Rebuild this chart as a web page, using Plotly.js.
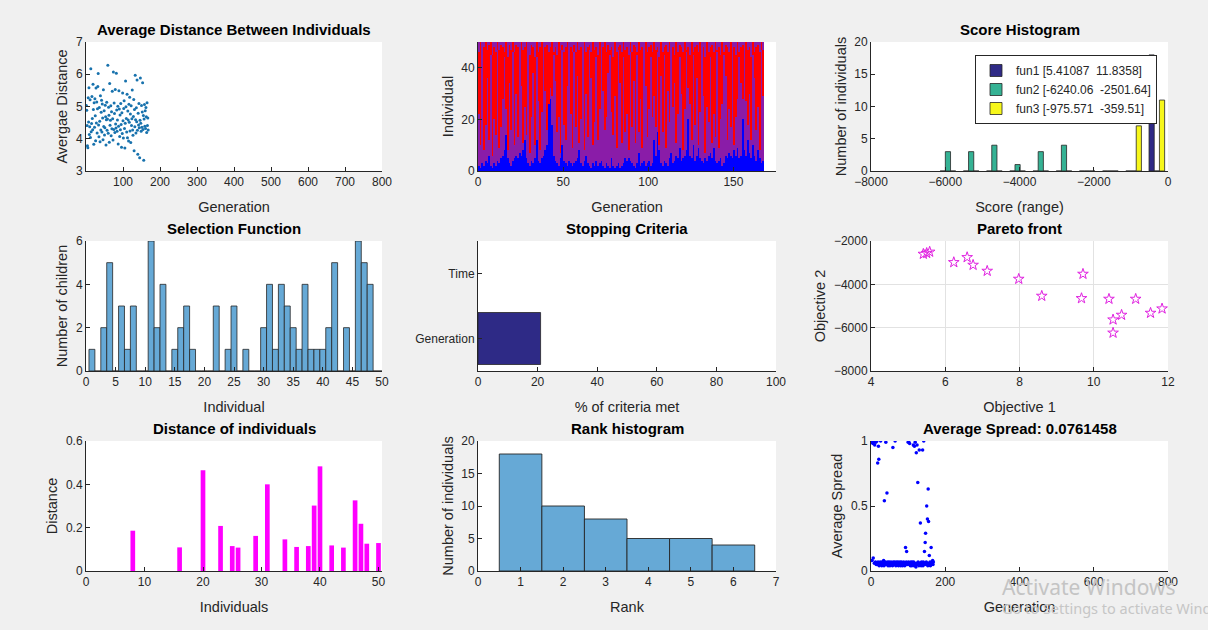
<!DOCTYPE html>
<html><head><meta charset="utf-8">
<script src="https://cdn.plot.ly/plotly-3.0.1.min.js"></script>
<style>html,body{margin:0;padding:0;background:#f0f0f0;}#chart{width:1208px;height:630px;}</style>
</head><body><div id="chart"></div>
<script>
// ---------- DATA ----------
// 1. Average distance between individuals (one value per generation, 168 generations)
const avgDistance = [
5.03,4.88,4.41,3.78,3.72,5.27,4.52,5.58,4.13,4.37,5.21,4.04,6.17,4.22,
4.47,5.31,4.63,4.28,5.69,4.91,3.83,5.12,4.36,5.24,4.71,3.94,5.57,4.49,
5.14,4.18,4.93,5.62,6.02,4.43,4.06,4.97,4.54,3.91,5.33,4.27,4.82,5.19,
4.21,5.08,4.64,3.97,5.52,4.38,4.87,4.12,4.34,5.04,4.68,3.81,4.59,5.13,
4.26,4.61,6.28,4.17,4.98,4.73,3.89,5.71,4.42,4.57,5.02,4.09,4.84,4.31,
5.47,4.62,3.96,6.07,4.29,5.11,4.78,4.19,5.53,4.46,4.33,6.03,4.89,4.23,
4.58,5.01,3.84,4.39,5.49,4.92,4.07,4.74,4.28,5.09,4.44,3.74,4.81,4.16,
5.42,4.56,4.02,4.94,5.18,4.32,3.71,4.48,5.79,4.99,4.63,4.21,5.38,4.03,
4.86,4.58,3.93,5.07,4.51,5.29,4.24,4.77,3.88,5.02,4.41,4.62,5.51,4.27,
4.11,4.69,5.22,3.63,4.91,4.37,5.97,4.59,4.18,4.96,4.53,5.82,4.26,3.52,
4.79,4.43,5.09,4.34,3.41,4.57,5.88,4.48,4.23,5.03,4.36,4.83,5.74,4.29,
4.72,3.33,4.61,5.06,4.39,4.87,4.32,4.97,4.68,4.19,5.12,4.41,4.64,4.27];

// 2. Genealogy: per generation, height of solid blue (mutation) band, top of purple streak, start of top mixed band
const blueTop = [
2,1,3,2,4,3,6,2,1,3,2,4,3,5,
6,8,14,5,3,2,4,5,6,5,7,6,8,12,
5,3,2,4,3,5,12,4,3,5,6,8,10,26,
28,18,6,4,3,2,5,10,4,3,2,4,3,2,
3,4,5,8,3,2,4,6,3,2,1,3,2,4,
2,3,4,2,1,3,2,1,5,2,1,2,3,1,
2,3,5,4,5,4,3,2,1,3,7,2,3,4,
2,3,4,2,3,12,6,15,8,3,2,4,3,2,
5,7,3,4,6,5,9,4,5,6,8,20,6,5,
10,4,6,9,5,4,3,5,4,6,7,5,9,4,
3,4,5,2,3,6,5,7,6,5,8,6,9,5,
6,20,8,6,12,7,5,10,6,4,8,5,3,4];
const streakTop = [
22,10,46,8,18,36,12,45,6,20,14,47,9,17,
28,44,24,8,34,16,46,10,30,13,45,33,11,25,
14,47,7,21,38,10,44,27,8,23,46,31,16,26,
32,29,45,35,15,21,7,47,18,12,33,44,22,9,
46,17,37,11,20,45,8,30,13,47,36,10,19,44,
12,24,46,31,16,21,38,45,23,14,29,9,47,34,
11,44,15,22,8,46,17,35,11,45,15,28,9,47,
33,13,24,44,21,29,17,46,10,37,15,45,9,31,
19,47,25,34,11,22,44,30,8,24,46,32,26,12,
45,18,36,10,23,47,29,7,25,19,44,11,22,13,
46,9,20,26,45,37,12,24,17,47,10,21,28,44,
34,28,46,27,18,30,12,45,36,16,25,8,47,29];
const topStart = [
46,50,45,48,50,47,49,50,45,48,46,50,47,49,
48,46,50,44,49,47,50,46,49,48,45,50,47,48,
50,47,45,49,48,44,50,46,48,50,45,48,49,46,
48,50,46,48,45,50,47,49,46,48,50,44,48,46,
49,46,50,47,48,45,50,46,48,49,46,50,47,48,
45,50,46,48,50,46,49,47,48,44,50,46,48,49,
46,50,47,48,45,50,46,49,48,46,50,47,48,45,
50,46,48,49,46,50,47,48,44,50,46,48,49,46,
50,47,48,45,50,46,49,48,46,50,47,48,45,50,
46,48,49,46,50,47,48,44,50,46,48,49,46,50,
47,48,45,50,46,49,48,46,50,47,48,45,50,46,
48,49,46,50,47,48,44,50,46,48,49,46,50,47];
const nIndividuals = 50;

// 3. Score histogram
const binCenters = [-5927.5,-5302.3,-4677.1,-4051.9,-3426.8,-2801.6,-2176.4,-1551.2,-926.0,-300.8];
const fun1Counts = [0,0,0,0,0,0,0,0,0,18];
const fun2Counts = [3,3,4,1,3,4,0,0,0,0];
const fun3Counts = [0,0,0,0,0,0,0,0,7,11];
const scoreLegend = ['fun1 [5.41087\u00a0 11.8358]','fun2 [-6240.06\u00a0 -2501.64]','fun3 [-975.571\u00a0 -359.51]'];

// 4. Selection function (children per individual 1..50)
const childrenCounts = [1,0,2,5,0,3,1,3,0,0, 6,2,4,0,1,2,3,1,0,0, 0,3,0,1,3,0,1,0,0,2,
                        4,1,4,3,2,1,4,1,1,1, 2,5,0,2,0,6,5,4,0,0];

// 5. Stopping criteria
const criteria = ['Generation','Time'];
const criteriaMet = [21,0];

// 6. Pareto front
const objective1 = [5.41,5.50,5.58,6.23,6.59,6.75,7.13,7.98,8.60,9.71,9.67,10.41,10.52,10.75,10.52,11.13,11.53,11.84];
const objective2 = [-2600,-2560,-2502,-2985,-2754,-3108,-3385,-3754,-4538,-3523,-4646,-4677,-5631,-5415,-6240,-4677,-5323,-5123];

// 7. Distance of individuals
const distIndividuals = [8,16,20,23,25,26,29,31,34,36,38,39,40,42,44,46,47,48,50];
const distValues = [0.186,0.109,0.465,0.208,0.115,0.108,0.162,0.400,0.146,0.111,0.115,0.302,0.483,0.118,0.108,0.326,0.218,0.126,0.129];

// 8. Rank histogram
const ranks = [1,2,3,4,5,6];
const rankCounts = [18,10,8,5,5,4];

// 9. Average spread per generation
const avgSpread = [
1.0,0.99,0.08,1.0,0.98,0.1,0.99,1.0,0.06,0.97,1.0,0.07,0.99,0.05,
0.06,1.0,0.05,0.83,0.07,0.96,0.86,0.04,0.06,0.05,0.07,1.0,0.05,0.06,
0.04,0.07,0.05,0.06,0.05,0.08,0.04,0.54,0.06,0.05,0.07,0.99,0.05,0.06,
0.6,0.05,0.07,0.04,0.06,0.05,0.07,0.06,0.04,0.06,0.05,0.07,0.06,0.05,
0.06,0.04,0.95,0.07,0.05,0.06,0.05,0.07,1.0,0.06,0.04,0.06,0.07,0.05,
0.06,0.05,0.07,0.04,0.06,0.05,0.06,0.07,0.05,0.04,0.06,0.07,0.05,0.06,
0.04,0.06,0.05,0.07,0.06,0.05,0.04,0.06,0.18,0.05,0.07,0.15,0.06,0.05,
0.06,0.99,0.07,1.0,0.05,0.98,0.06,0.04,0.07,0.05,0.06,0.04,0.07,0.06,
0.05,0.97,0.07,0.04,0.96,0.06,0.99,0.05,0.03,0.91,0.06,0.97,0.05,0.68,
0.07,0.05,0.04,0.93,0.06,0.05,0.37,0.06,0.04,0.07,0.05,0.06,0.93,0.04,
0.07,1.0,0.05,0.15,0.06,0.22,0.29,0.05,0.07,0.5,0.06,0.4,0.04,0.63,
0.38,0.06,0.12,0.05,0.07,0.04,0.06,0.18,0.05,0.07,0.06,0.08,0.05,0.07];

// ---------- BUILD ----------
const W = 1208, H = 630;
const FONT = 'Liberation Sans, Arial, sans-serif';
const INK = '#262626';
const cols = [[86,382],[478,776],[871,1168]];
const rows = [[42,171],[241,371],[441,571]];
const gens = avgDistance.map((_, i) => i + 1);
const genCenters = blueTop.map((_, i) => i + 0.5);
const indCenters = [];
for (let i = 1; i <= nIndividuals; i++) indCenters.push(i - 0.5);
const zGen = [];
for (let i = 1; i <= nIndividuals; i++) {
  const row = [];
  for (let g = 0; g < blueTop.length; g++) {
    let v = 1;
    if (i <= blueTop[g]) v = 0;
    else if (i <= streakTop[g]) v = 0.5;
    else if (i > topStart[g]) v = 0.5;
    row.push(v);
  }
  zGen.push(row);
}
const ax = k => (k > 1 ? k : '');
const traces = [];
traces.push({type:'scatter', mode:'markers', x:gens, y:avgDistance, xaxis:'x', yaxis:'y',
  marker:{color:'#1872ad', size:3}, showlegend:false, hoverinfo:'skip'});
traces.push({type:'heatmap', x:genCenters, y:indCenters, z:zGen, xaxis:'x2', yaxis:'y2', zmin:0, zmax:1,
  colorscale:[[0,'#0000ff'],[0.33,'#0000ff'],[0.33,'#8a1ca8'],[0.67,'#8a1ca8'],[0.67,'#ff0000'],[1,'#ff0000']],
  showscale:false, hoverinfo:'skip'});
const funColors = ['#2f2a86','#35b294','#f7f71a'];
const funCounts = [fun1Counts, fun2Counts, fun3Counts];
const funOffsets = [-210,-70,70];
for (let f = 0; f < 3; f++) {
  traces.push({type:'bar', x:binCenters, y:funCounts[f], xaxis:'x3', yaxis:'y3', width:140, offset:funOffsets[f],
    marker:{color:funColors[f], line:{color:INK, width:0.8}}, name:scoreLegend[f], showlegend:true, hoverinfo:'skip'});
}
traces.push({type:'bar', x:childrenCounts.map((_, i) => i + 1), y:childrenCounts, xaxis:'x4', yaxis:'y4', width:1,
  marker:{color:'#66a9d6', line:{color:INK, width:0.8}}, showlegend:false, hoverinfo:'skip'});
traces.push({type:'bar', orientation:'h', x:criteriaMet, y:[1,2], xaxis:'x5', yaxis:'y5', width:0.8,
  marker:{color:'#2e2a86', line:{color:INK, width:[0.8,0]}}, showlegend:false, hoverinfo:'skip'});
traces.push({type:'scatter', mode:'markers', x:objective1, y:objective2, xaxis:'x6', yaxis:'y6',
  marker:{symbol:'star-open', color:'#e020e0', size:8, line:{width:1}}, showlegend:false, hoverinfo:'skip'});
traces.push({type:'bar', x:distIndividuals, y:distValues, xaxis:'x7', yaxis:'y7', width:0.8,
  marker:{color:'#ff00ff', line:{width:0}}, showlegend:false, hoverinfo:'skip'});
traces.push({type:'bar', x:ranks, y:rankCounts, xaxis:'x8', yaxis:'y8', width:1,
  marker:{color:'#66a9d6', line:{color:INK, width:0.9}}, showlegend:false, hoverinfo:'skip'});
traces.push({type:'scatter', mode:'markers', x:gens, y:avgSpread, xaxis:'x9', yaxis:'y9',
  marker:{color:'#0000ff', size:3.5}, showlegend:false, hoverinfo:'skip'});

function mkAx(k, letter, range, title, tickvals, extra) {
  const r = Math.floor((k - 1) / 3), c = (k - 1) % 3;
  const a = {
    domain: letter === 'x' ? [cols[c][0] / W, cols[c][1] / W] : [1 - rows[r][1] / H, 1 - rows[r][0] / H],
    anchor: (letter === 'x' ? 'y' : 'x') + ax(k),
    range: range, autorange: false,
    showline: true, linecolor: INK, linewidth: 1, mirror: false,
    ticks: 'inside', ticklen: 4, tickwidth: 1, tickcolor: INK,
    showgrid: false, zeroline: false, tickvals: tickvals,
    tickfont: {family: FONT, size: 12, color: INK},
    title: {text: title, font: {family: FONT, size: 14.5, color: INK}, standoff: letter === 'x' ? 13 : 4},
    fixedrange: true
  };
  return Object.assign(a, extra || {});
}
const layout = {
  width: W, height: H, margin: {l:0, r:0, t:0, b:0},
  paper_bgcolor: '#f0f0f0', plot_bgcolor: '#ffffff',
  barmode: 'overlay', showlegend: true,
  legend: {x: 975/W, y: 1 - 55/H, xanchor: 'left', yanchor: 'top', bgcolor: '#ffffff',
    bordercolor: INK, borderwidth: 1, font: {family: FONT, size: 12, color: INK}, tracegroupgap: 0},
  xaxis:  mkAx(1,'x',[0,800],'Generation',[100,200,300,400,500,600,700,800]),
  yaxis:  mkAx(1,'y',[3,7],'Avergae Distance',[3,4,5,6,7]),
  xaxis2: mkAx(2,'x',[0,175],'Generation',[0,50,100,150]),
  yaxis2: mkAx(2,'y',[0,50],'Individual',[0,20,40]),
  xaxis3: mkAx(3,'x',[-8000,0],'Score (range)',[-8000,-6000,-4000,-2000,0]),
  yaxis3: mkAx(3,'y',[0,20],'Number of individuals',[0,5,10,15,20]),
  xaxis4: mkAx(4,'x',[0,50],'Individual',[0,5,10,15,20,25,30,35,40,45,50]),
  yaxis4: mkAx(4,'y',[0,6],'Number of children',[0,2,4,6]),
  xaxis5: mkAx(5,'x',[0,100],'% of criteria met',[0,20,40,60,80,100]),
  yaxis5: mkAx(5,'y',[0.5,2.5],'',[1,2],{ticktext: criteria}),
  xaxis6: mkAx(6,'x',[4,12],'Objective 1',[4,6,8,10,12],{showgrid:true, gridcolor:'#e2e2e2'}),
  yaxis6: mkAx(6,'y',[-8000,-2000],'Objective 2',[-8000,-6000,-4000,-2000],{showgrid:true, gridcolor:'#e2e2e2'}),
  xaxis7: mkAx(7,'x',[0,50.6],'Individuals',[0,10,20,30,40,50]),
  yaxis7: mkAx(7,'y',[0,0.6],'Distance',[0,0.2,0.4,0.6],{ticktext:['0','0.2','0.4','0.6']}),
  xaxis8: mkAx(8,'x',[0,7],'Rank',[0,1,2,3,4,5,6,7]),
  yaxis8: mkAx(8,'y',[0,20],'Number of individuals',[0,5,10,15,20]),
  xaxis9: mkAx(9,'x',[0,800],'Generation',[0,200,400,600,800]),
  yaxis9: mkAx(9,'y',[0,1],'Average Spread',[0,0.5,1],{ticktext:['0','0.5','1']}),
  annotations: []
};
const titles = [
  ['Average Distance Between Individuals',0,0],['Score Histogram',2,0],
  ['Selection Function',0,1],['Stopping Criteria',1,1],['Pareto front',2,1],
  ['Distance of individuals',0,2],['Rank histogram',1,2],['Average Spread: 0.0761458',2,2]
];
titles.forEach(t => {
  const cx = (cols[t[1]][0] + cols[t[1]][1]) / 2;
  const cy = rows[t[2]][0] - 12.5;
  layout.annotations.push({text:'<b>' + t[0] + '</b>', xref:'paper', yref:'paper', x:cx/W, y:1-cy/H,
    xanchor:'center', yanchor:'middle', showarrow:false, font:{family:FONT, size:15, color:'#000000'}});
});
layout.annotations.push({text:'Activate Windows', xref:'paper', yref:'paper', x:1000/W, y:1-587/H,
  xanchor:'left', yanchor:'middle', showarrow:false, font:{family:'Noto Sans, Open Sans, sans-serif', size:21, color:'#c4c4c4'}});
layout.annotations.push({text:'Go to Settings to activate Windows.', xref:'paper', yref:'paper', x:1000/W, y:1-608/H,
  xanchor:'left', yanchor:'middle', showarrow:false, font:{family:'Noto Sans, Open Sans, sans-serif', size:14.5, color:'#c6c6c6'}});
Plotly.newPlot('chart', traces, layout, {staticPlot: true, displayModeBar: false});
</script></body></html>
